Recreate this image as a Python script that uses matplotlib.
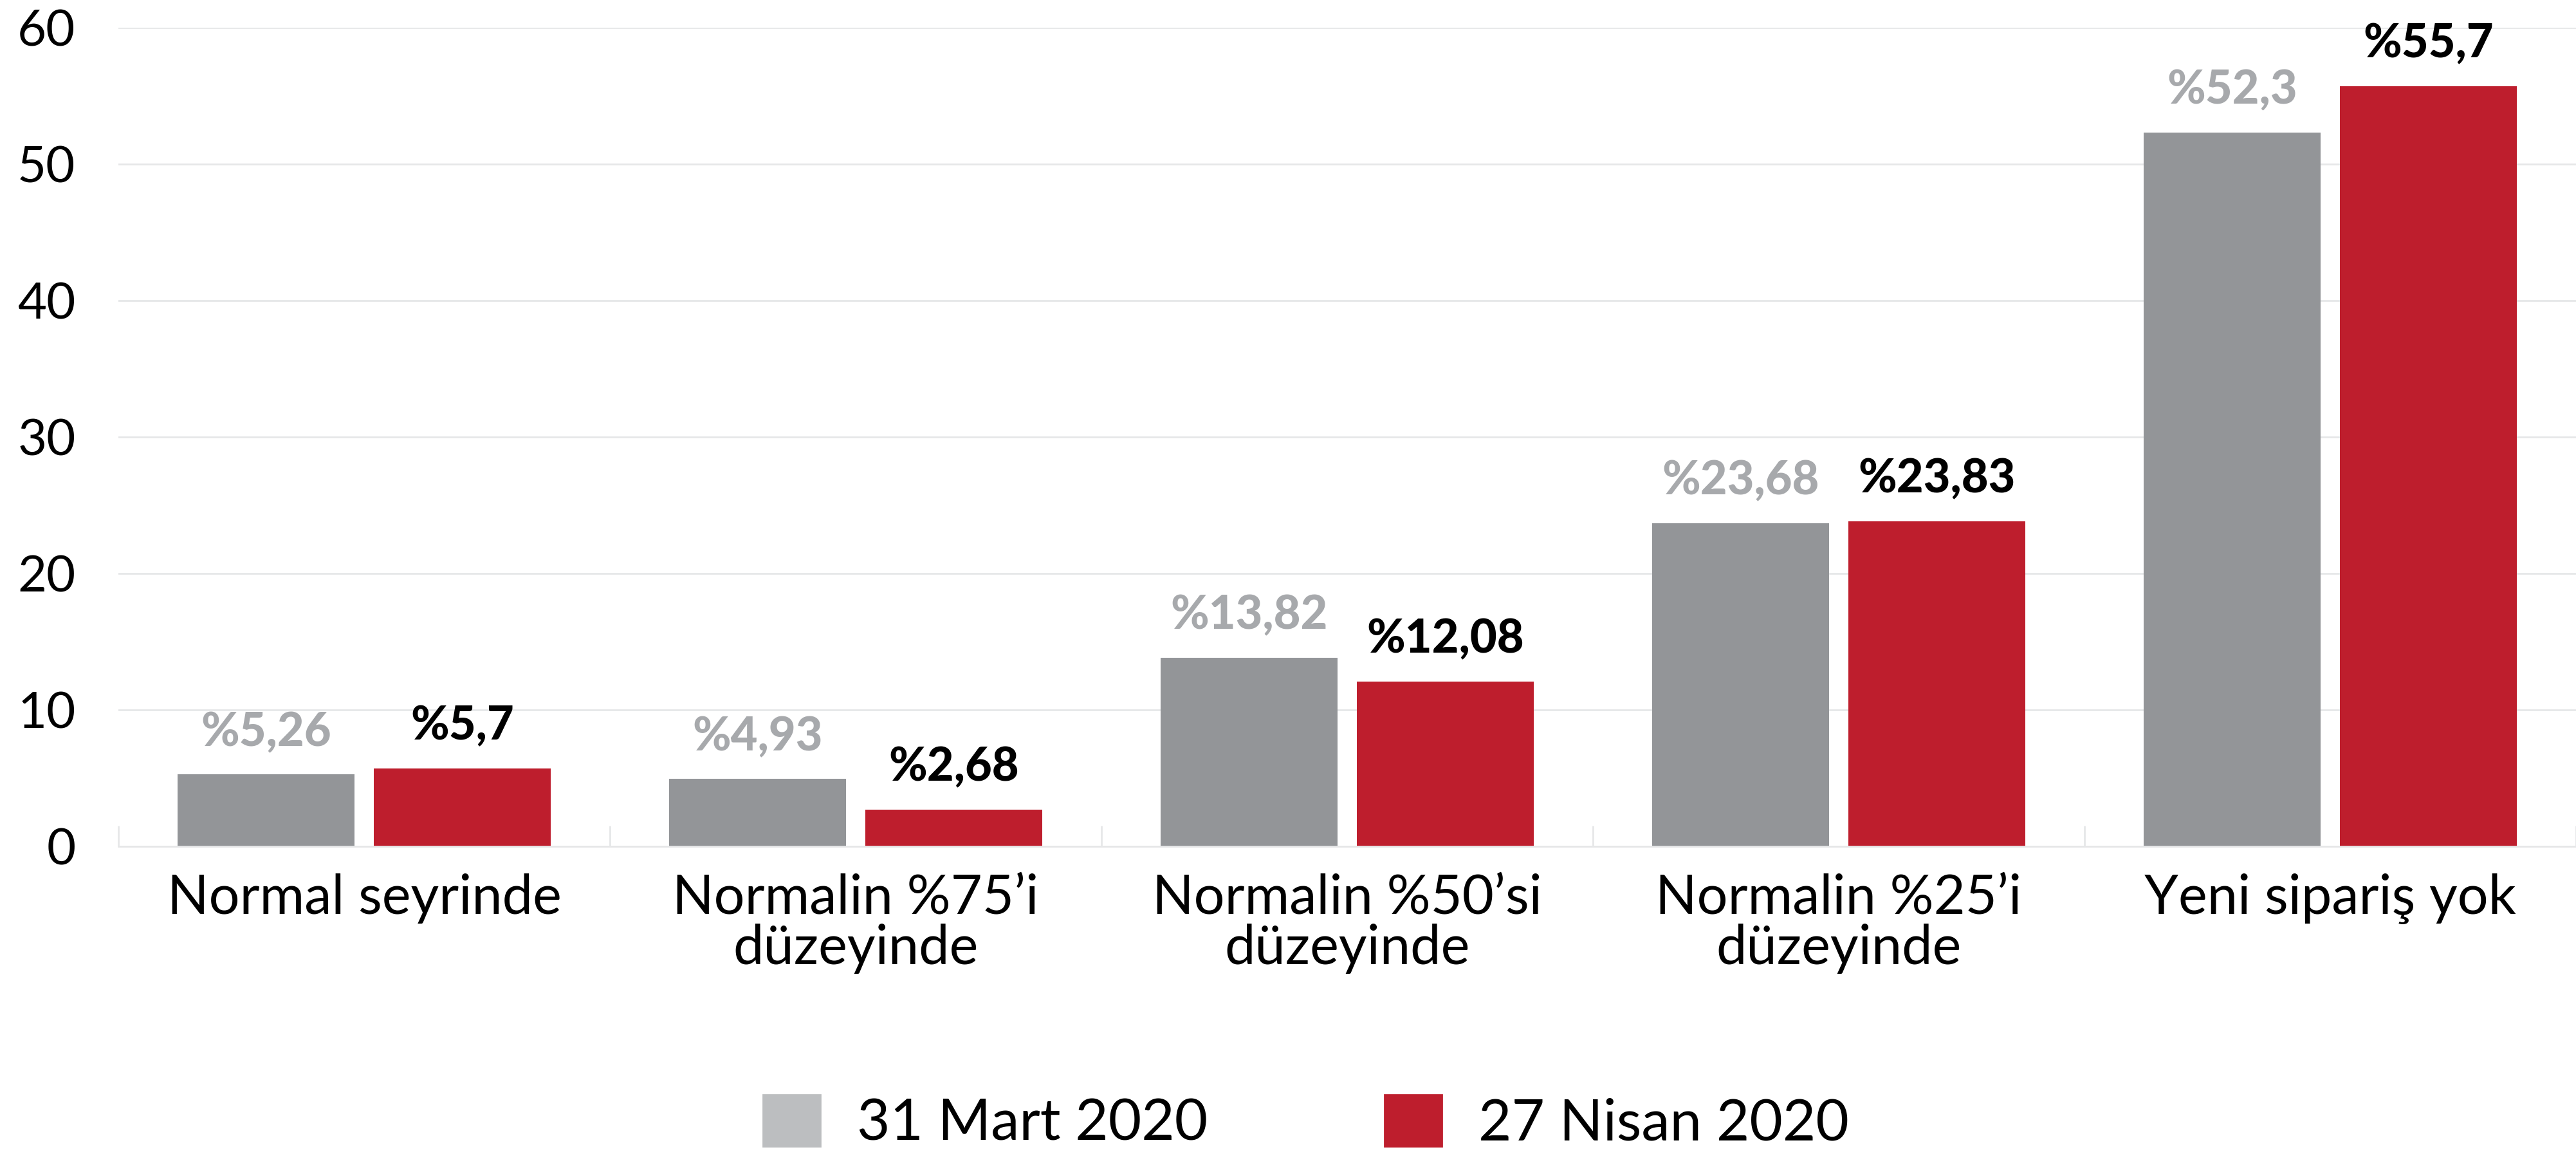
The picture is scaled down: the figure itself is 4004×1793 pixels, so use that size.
import matplotlib.pyplot as plt
import numpy as np

CATEGORIES = [
    "Normal seyrinde",
    "Normalin %75’i\ndüzeyinde",
    "Normalin %50’si\ndüzeyinde",
    "Normalin %25’i\ndüzeyinde",
    "Yeni sipariş yok",
]
SERIES_NAMES = ["31 Mart 2020", "27 Nisan 2020"]
MARCH_VALUES = [5.26, 4.93, 13.82, 23.68, 52.3]
APRIL_VALUES = [5.7, 2.68, 12.08, 23.83, 55.7]
Y_TICKS = [0, 10, 20, 30, 40, 50, 60]

BAR_COLORS = ["#939598", "#be1e2d"]
LEGEND_COLORS = ["#bcbec0", "#be1e2d"]
LABEL_COLORS = ["#a7a9ac", "#000000"]
GRID_COLOR = "#e6e7e8"

plt.rcParams["font.family"] = ["Lato", "DejaVu Sans"]


def pct_label(value: float) -> str:
    return "%" + f"{value:g}".replace(".", ",")


fig = plt.figure(figsize=(20.02, 8.965), dpi=200)
ax = fig.add_axes([0.046, 0.2666, 0.954, 0.7094])

x = np.arange(len(CATEGORIES))
width = 0.36
offset = 0.2

handles = []
for i, values in enumerate([MARCH_VALUES, APRIL_VALUES]):
    pos = x + (-offset if i == 0 else offset)
    ax.bar(pos, values, width=width, color=BAR_COLORS[i], zorder=3)
    for xp, v in zip(pos, values):
        ax.annotate(
            pct_label(v),
            xy=(xp, v),
            xytext=(0, 16),
            textcoords="offset points",
            ha="center",
            va="baseline",
            fontsize=26,
            fontweight="black",
            color=LABEL_COLORS[i],
        )
    handles.append(plt.Rectangle((0, 0), 1, 1, color=LEGEND_COLORS[i]))

ax.set_xlim(-0.5, len(CATEGORIES) - 0.5)
ax.set_ylim(0, 60)
ax.set_yticks(Y_TICKS)
ax.set_xticks(x)
ax.set_xticklabels(CATEGORIES, fontsize=30.5, linespacing=1.0)
ax.set_xticks(np.arange(-0.5, len(CATEGORIES), 1), minor=True)

ax.tick_params(axis="x", which="major", length=0, pad=15)
ax.tick_params(axis="x", which="minor", direction="in", length=11.5,
               width=1, color=GRID_COLOR)
ax.tick_params(axis="y", length=0, pad=24, labelsize=28)

ax.yaxis.grid(True, color=GRID_COLOR, linewidth=1, zorder=0)
ax.set_axisbelow(True)
for side in ["top", "right", "left"]:
    ax.spines[side].set_visible(False)
ax.spines["bottom"].set_color(GRID_COLOR)
ax.spines["bottom"].set_linewidth(1)
ax.spines["bottom"].set_zorder(4)

fig.legend(
    handles,
    SERIES_NAMES,
    loc="center",
    bbox_to_anchor=(0.507, 0.027),
    ncol=2,
    frameon=False,
    fontsize=32,
    handlelength=1.0,
    handleheight=1.0,
    handletextpad=0.64,
    columnspacing=3.1,
    borderpad=0,
)

fig.savefig("out.png", dpi=200)
